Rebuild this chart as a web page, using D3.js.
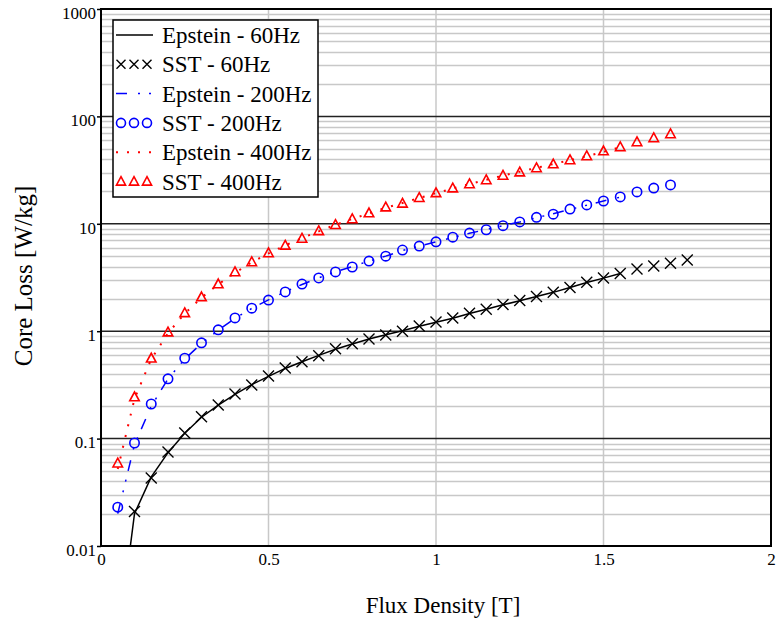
<!DOCTYPE html>
<html>
<head>
<meta charset="utf-8">
<script src="https://cdn.jsdelivr.net/npm/d3@7"></script>
<style>
  html, body { margin: 0; padding: 0; background: #fff; }
  svg { display: block; }
  text { font-family: "Liberation Serif", "Times New Roman", serif; fill: #000; }
</style>
</head>
<body>
<svg id="chart" width="780" height="620"></svg>
<script>
// ---------- DATA ----------
const xTicks = [0, 0.5, 1, 1.5, 2];
const xTickLabels = ["0", "0.5", "1", "1.5", "2"];
const yTicks = [0.01, 0.1, 1, 10, 100, 1000];
const yTickLabels = ["0.01", "0.1", "1", "10", "100", "1000"];

// SST 60 Hz (markers)
const sst60B = [0.1,0.15,0.2,0.25,0.3,0.35,0.4,0.45,0.5,0.55,0.6,0.65,0.7,0.75,0.8,0.85,0.9,0.95,1.0,1.05,1.1,1.15,1.2,1.25,1.3,1.35,1.4,1.45,1.5,1.55,1.6,1.65,1.7,1.75];
const sst60 = [0.021,0.043,0.075,0.113,0.16,0.205,0.26,0.316,0.383,0.454,0.52,0.59,0.685,0.765,0.846,0.922,1.0,1.12,1.22,1.33,1.47,1.6,1.77,1.93,2.1,2.3,2.55,2.85,3.13,3.45,3.8,4.05,4.3,4.6];
// Epstein 60 Hz (line)
const ep60B = [0.05,0.1,0.15,0.2,0.25,0.3,0.35,0.4,0.45,0.5,0.55,0.6,0.65,0.7,0.75,0.8,0.85,0.9,0.95,1.0,1.05,1.1,1.15,1.2,1.25,1.3,1.35,1.4,1.45,1.5,1.55];
const ep60 = [0.0012,0.02,0.044,0.074,0.112,0.158,0.205,0.258,0.318,0.38,0.45,0.52,0.595,0.68,0.76,0.845,0.925,1.01,1.11,1.21,1.32,1.46,1.6,1.76,1.92,2.1,2.3,2.55,2.84,3.12,3.45];

// SST 200 Hz (markers)
const sst200B = [0.05,0.1,0.15,0.2,0.25,0.3,0.35,0.4,0.45,0.5,0.55,0.6,0.65,0.7,0.75,0.8,0.85,0.9,0.95,1.0,1.05,1.1,1.15,1.2,1.25,1.3,1.35,1.4,1.45,1.5,1.55,1.6,1.65,1.7];
const sst200 = [0.023,0.091,0.21,0.36,0.56,0.78,1.03,1.33,1.64,1.95,2.32,2.75,3.13,3.56,3.96,4.5,5.0,5.7,6.2,6.8,7.5,8.2,8.8,9.6,10.4,11.5,12.3,13.7,15.0,16.3,17.8,19.8,21.5,23.0];
// Epstein 200 Hz (line)
const ep200B = [0.05,0.1,0.15,0.2,0.25,0.3,0.35,0.4,0.45,0.5,0.55,0.6,0.65,0.7,0.75,0.8,0.85,0.9,0.95,1.0,1.05,1.1,1.15,1.2,1.25,1.3,1.35,1.4,1.45,1.5,1.55];
const ep200 = [0.02,0.088,0.2,0.36,0.55,0.77,1.02,1.32,1.63,1.96,2.33,2.72,3.14,3.58,4.0,4.5,5.0,5.65,6.2,6.8,7.45,8.15,8.85,9.6,10.4,11.4,12.4,13.6,14.9,16.3,17.7];

// SST 400 Hz (markers)
const sst400B = [0.05,0.1,0.15,0.2,0.25,0.3,0.35,0.4,0.45,0.5,0.55,0.6,0.65,0.7,0.75,0.8,0.85,0.9,0.95,1.0,1.05,1.1,1.15,1.2,1.25,1.3,1.35,1.4,1.45,1.5,1.55,1.6,1.65,1.7];
const sst400 = [0.059,0.244,0.56,0.98,1.48,2.08,2.75,3.56,4.41,5.35,6.3,7.3,8.6,9.8,11.1,12.6,14.3,15.5,17.5,19.4,21.5,23.5,25.6,28.2,30.3,33.1,36.0,39.3,42.8,47.6,51.9,57.8,63.0,68.6];
// Epstein 400 Hz (line)
const ep400B = [0.05,0.1,0.15,0.2,0.25,0.3,0.35,0.4,0.45,0.5,0.55,0.6,0.65,0.7,0.75,0.8,0.85,0.9,0.95,1.0,1.05,1.1,1.15,1.2,1.25,1.3,1.35,1.4,1.45,1.5,1.55];
const ep400 = [0.052,0.235,0.55,0.96,1.46,2.05,2.73,3.5,4.38,5.3,6.3,7.35,8.5,9.8,11.1,12.5,14.1,15.6,17.4,19.3,21.3,23.4,25.7,28.1,30.5,33.2,36.0,39.2,42.6,46.8,51.5];

const legendLabels = ["Epstein - 60Hz", "SST - 60Hz", "Epstein - 200Hz", "SST - 200Hz", "Epstein - 400Hz", "SST - 400Hz"];

// ---------- LAYOUT ----------
const svg = d3.select("#chart");
const L = 101, R = 771, T = 9, B = 546;

const x = d3.scaleLinear().domain([0, 2]).range([L, R]);
const y = d3.scaleLog().domain([0.01, 1000]).range([B, T]);

const BLUE = "#0000ff", RED = "#ff0000";

svg.append("defs").append("clipPath").attr("id", "plotclip")
  .append("rect").attr("x", L).attr("y", T).attr("width", R - L).attr("height", B - T);

// minor horizontal grid
const minor = [];
for (let e = -2; e < 3; e++) for (let m = 2; m <= 9; m++) minor.push(m * Math.pow(10, e));
svg.append("g").selectAll("line").data(minor).join("line")
  .attr("x1", L).attr("x2", R)
  .attr("y1", d => Math.round(y(d)) + 0.5).attr("y2", d => Math.round(y(d)) + 0.5)
  .attr("stroke", "#c8c8c8").attr("stroke-width", 1.5);

// vertical grid
svg.append("g").selectAll("line").data([0.5, 1, 1.5]).join("line")
  .attr("x1", d => x(d)).attr("x2", d => x(d))
  .attr("y1", T).attr("y2", B)
  .attr("stroke", "#c8c8c8").attr("stroke-width", 1.5);

// major horizontal grid
svg.append("g").selectAll("line").data(yTicks.slice(1, -1)).join("line")
  .attr("x1", L).attr("x2", R)
  .attr("y1", d => y(d)).attr("y2", d => y(d))
  .attr("stroke", "#222").attr("stroke-width", 1.5);

// axes (ticks + labels) via d3 axes
const yAxis = d3.axisLeft(y).tickValues(yTicks)
  .tickFormat((d, i) => yTickLabels[i]).tickSize(4).tickPadding(1);
const gy = svg.append("g").attr("transform", `translate(${L},0)`).call(yAxis)
  .attr("font-family", "'Liberation Serif', serif");
gy.select(".domain").remove();
gy.selectAll(".tick line").attr("stroke", "#000").attr("stroke-width", 1.5);
gy.selectAll(".tick text").attr("font-size", 17).attr("dy", "0.55em");

const xAxis = d3.axisBottom(x).tickValues(xTicks)
  .tickFormat((d, i) => xTickLabels[i]).tickSize(0).tickPadding(6);
const gx = svg.append("g").attr("transform", `translate(0,${B})`).call(xAxis)
  .attr("font-family", "'Liberation Serif', serif");
gx.select(".domain").remove();
gx.selectAll(".tick text").attr("font-size", 17).attr("dy", "0.75em");

// plot frame
svg.append("rect").attr("x", L).attr("y", T).attr("width", R - L).attr("height", B - T)
  .attr("fill", "none").attr("stroke", "#000").attr("stroke-width", 2);

// ---------- SERIES ----------
const plot = svg.append("g").attr("clip-path", "url(#plotclip)");
const line = d3.line().x(d => x(d[0])).y(d => y(d[1]));
const zip = (a, b) => a.map((v, i) => [v, b[i]]);

plot.append("path").datum(zip(ep60B, ep60)).attr("d", line)
  .attr("fill", "none").attr("stroke", "#000").attr("stroke-width", 1.5);
plot.append("path").datum(zip(ep200B, ep200)).attr("d", line)
  .attr("fill", "none").attr("stroke", BLUE).attr("stroke-width", 1.5)
  .attr("stroke-dasharray", "11,11,2,9,2,9");
plot.append("path").datum(zip(ep400B, ep400)).attr("d", line)
  .attr("fill", "none").attr("stroke", RED).attr("stroke-width", 2)
  .attr("stroke-dasharray", "2,9");

function crossPath(cx, cy, s) {
  return `M${cx - s},${cy - s}L${cx + s},${cy + s}M${cx - s},${cy + s}L${cx + s},${cy - s}`;
}
function triPath(cx, cy, s) {
  return `M${cx},${cy - s}L${cx + s * 0.95},${cy + s * 0.75}L${cx - s * 0.95},${cy + s * 0.75}Z`;
}

plot.append("g").selectAll("path").data(zip(sst60B, sst60)).join("path")
  .attr("d", d => crossPath(x(d[0]), y(d[1]), 5.5))
  .attr("stroke", "#000").attr("stroke-width", 1.4).attr("fill", "none");
plot.append("g").selectAll("circle").data(zip(sst200B, sst200)).join("circle")
  .attr("cx", d => x(d[0])).attr("cy", d => y(d[1])).attr("r", 4.7)
  .attr("stroke", BLUE).attr("stroke-width", 1.6).attr("fill", "none");
plot.append("g").selectAll("path").data(zip(sst400B, sst400)).join("path")
  .attr("d", d => triPath(x(d[0]), y(d[1]), 5))
  .attr("stroke", RED).attr("stroke-width", 1.6).attr("fill", "none");

// ---------- LEGEND ----------
const lg = svg.append("g");
lg.append("rect").attr("x", 113).attr("y", 20).attr("width", 205).attr("height", 177)
  .attr("fill", "#fff").attr("stroke", "#000").attr("stroke-width", 1.5);
const rowY = i => 35 + i * 29.3;
legendLabels.forEach((lab, i) => {
  const cy = rowY(i);
  lg.append("text").attr("x", 162).attr("y", cy + 8).attr("font-size", 23).text(lab);
});
lg.append("line").attr("x1", 116).attr("x2", 153).attr("y1", rowY(0)).attr("y2", rowY(0))
  .attr("stroke", "#000").attr("stroke-width", 1.5);
lg.append("line").attr("x1", 116).attr("x2", 153).attr("y1", rowY(2)).attr("y2", rowY(2))
  .attr("stroke", BLUE).attr("stroke-width", 1.5).attr("stroke-dasharray", "11,11,2,9,2,9");
lg.append("line").attr("x1", 116).attr("x2", 153).attr("y1", rowY(4)).attr("y2", rowY(4))
  .attr("stroke", RED).attr("stroke-width", 2).attr("stroke-dasharray", "2,9");
[121, 134, 147].forEach(cx => {
  lg.append("path").attr("d", crossPath(cx, rowY(1), 4.5)).attr("stroke", "#000").attr("stroke-width", 1.4);
  lg.append("circle").attr("cx", cx).attr("cy", rowY(3)).attr("r", 4.5)
    .attr("stroke", BLUE).attr("stroke-width", 1.6).attr("fill", "none");
  lg.append("path").attr("d", triPath(cx, rowY(5), 4.8)).attr("stroke", RED)
    .attr("stroke-width", 1.6).attr("fill", "none");
});

// ---------- AXIS TITLES ----------
svg.append("text").attr("x", 443).attr("y", 613).attr("text-anchor", "middle")
  .attr("font-size", 23).text("Flux Density [T]");
svg.append("text").attr("transform", "translate(32,276) rotate(-90)")
  .attr("text-anchor", "middle").attr("font-size", 25).text("Core Loss [W/kg]");
</script>
</body>
</html>
